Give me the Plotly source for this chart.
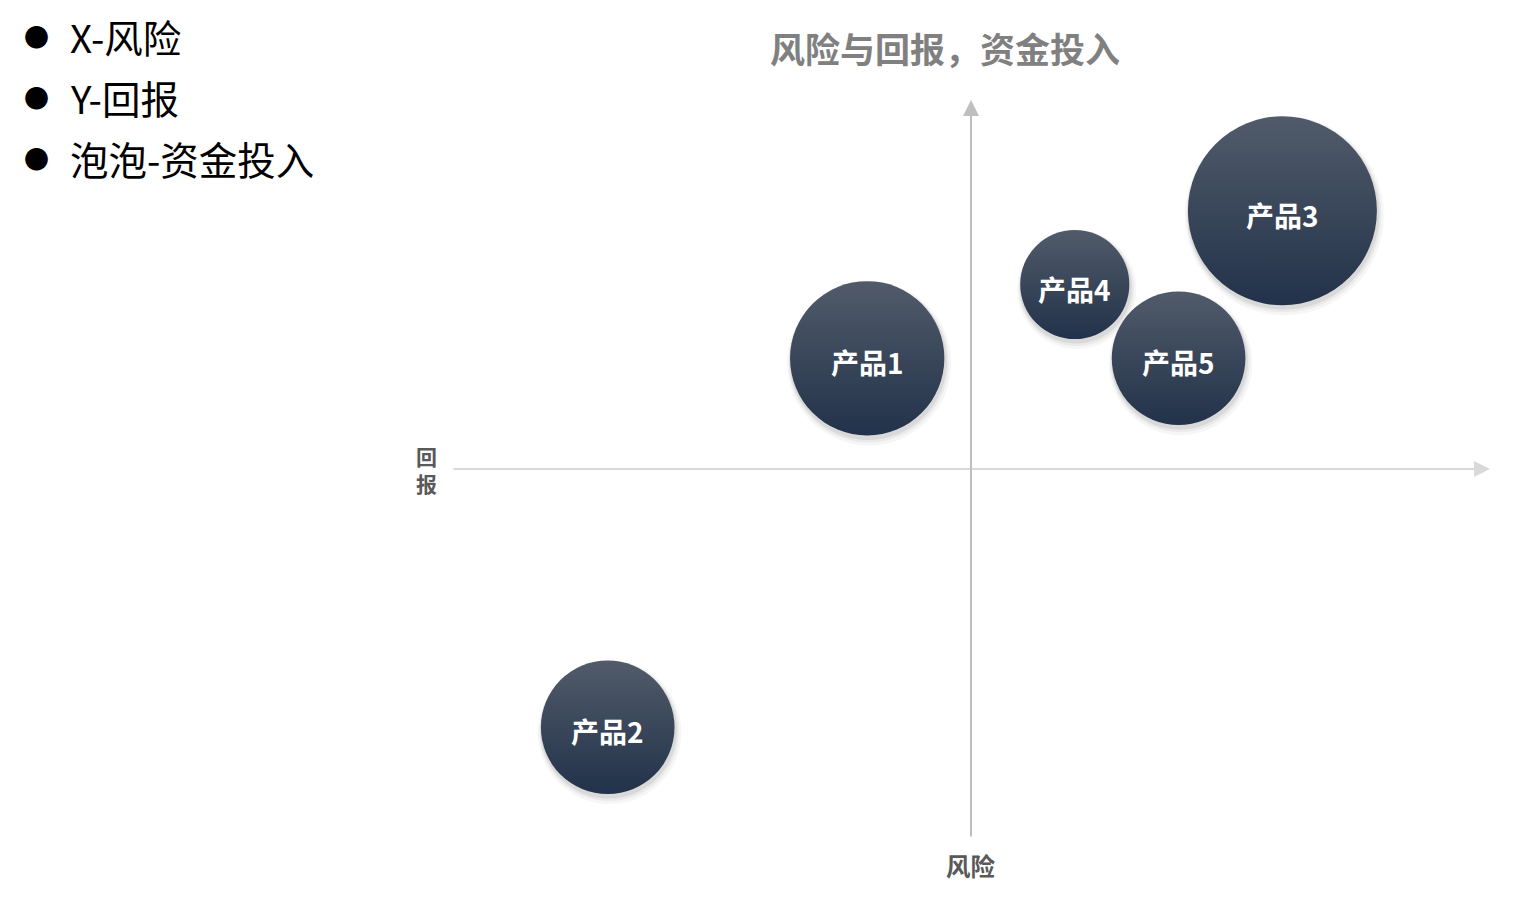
import numpy as np
import plotly.graph_objects as go

# ---- data ----
products = ["产品1", "产品2", "产品3", "产品4", "产品5"]
risk = [-10, -35, 30, 10, 20]          # X - 风险
ret = [15, -35, 35, 25, 15]            # Y - 回报
invest = [40, 30, 60, 20, 30]          # 泡泡 - 资金投入

title_text = "风险与回报，资金投入"
x_label = "风险"
y_label = "回报"
legend_lines = ["X-风险", "Y-回报", "泡泡-资金投入"]

FONT = "Noto Sans CJK SC, Noto Sans, sans-serif"
K = 24.4  # px of diameter per sqrt(unit of investment)
diam = np.sqrt(np.array(invest, dtype=float)) * K

fig = go.Figure()

# soft shadows (layered, offset down-right)
y_px = 738 / 100.0
x_px = 1038 / 100.0
for extra, alpha, dy, dx in [(10, 0.05, 5, 2), (6, 0.07, 4, 1.5), (3, 0.10, 3, 1)]:
    fig.add_trace(go.Scatter(
        x=[v + dx / x_px for v in risk],
        y=[v - dy / y_px for v in ret],
        mode="markers",
        marker=dict(size=diam + extra, sizemode="diameter",
                    color=f"rgba(0,0,0,{alpha})", line=dict(width=0)),
        hoverinfo="skip", showlegend=False,
    ))

fig.add_trace(go.Scatter(
    x=risk, y=ret, mode="markers",
    marker=dict(size=diam, sizemode="diameter", color="#515b6a",
                gradient=dict(type="vertical", color="#22324a"),
                line=dict(width=0), opacity=1),
    hoverinfo="skip", showlegend=False,
))

annotations = []
# bubble labels
for name, xv, yv in zip(products, risk, ret):
    annotations.append(dict(x=xv, y=yv, xref="x", yref="y", text=name, showarrow=False,
                            xanchor="center", yanchor="middle", yshift=-4,
                            font=dict(family=FONT, size=28, color="white", weight="bold")))
# axes with arrows
annotations.append(dict(x=50, y=0, ax=-50, ay=0, xref="x", yref="y", axref="x", ayref="y",
                        text="", showarrow=True, arrowhead=2, arrowsize=1.6, arrowwidth=2,
                        arrowcolor="#d9d9d9"))
annotations.append(dict(x=0, y=50, ax=0, ay=-50, xref="x", yref="y", axref="x", ayref="y",
                        text="", showarrow=True, arrowhead=2, arrowsize=1.6, arrowwidth=2,
                        arrowcolor="#bfbfbf"))
# title
annotations.append(dict(x=945, y=47, xref="paper", yref="paper", text=title_text,
                        font=dict(family=FONT, size=35, color="#808080", weight="bold")))
# axis labels
annotations.append(dict(x=971, y=865, xref="paper", yref="paper", text=x_label,
                        font=dict(family=FONT, size=24.5, color="#595959", weight="bold")))
annotations.append(dict(x=426, y=470, xref="paper", yref="paper", text="<br>".join(list(y_label)),
                        font=dict(family=FONT, size=21, color="#595959", weight="bold")))
# bullet legend
for i, line in enumerate(legend_lines):
    yy = 36 + i * 61
    annotations.append(dict(x=36, y=yy, xref="paper", yref="paper", text="●",
                            font=dict(family=FONT, size=25, color="black")))
    annotations.append(dict(x=68, y=yy, xref="paper", yref="paper", text=line, xanchor="left",
                            font=dict(family=FONT, size=38.5, color="black")))

# convert pixel-positioned paper annotations to paper fractions
W, H = 1514, 912
L, R, T, B = 452, 24, 100, 74
pw, ph = W - L - R, H - T - B
for a in annotations:
    if a.get("xref") == "paper":
        a["x"] = (a["x"] - L) / pw
        a["y"] = (H - B - a["y"]) / ph
        a["showarrow"] = False
        a.setdefault("xanchor", "center")
        a["yanchor"] = "middle"

fig.update_layout(
    width=W, height=H,
    margin=dict(l=L, r=R, t=T, b=B, pad=0),
    paper_bgcolor="white", plot_bgcolor="white",
    xaxis=dict(range=[-50, 50], showgrid=False, zeroline=False, showticklabels=False,
               ticks="", showline=False, fixedrange=True),
    yaxis=dict(range=[-50, 50], showgrid=False, zeroline=False, showticklabels=False,
               ticks="", showline=False, fixedrange=True),
    annotations=annotations,
    showlegend=False,
)

fig.write_html("out.html", config={"displayModeBar": False},
               post_script="document.body.style.margin='0';document.body.style.padding='0';")
